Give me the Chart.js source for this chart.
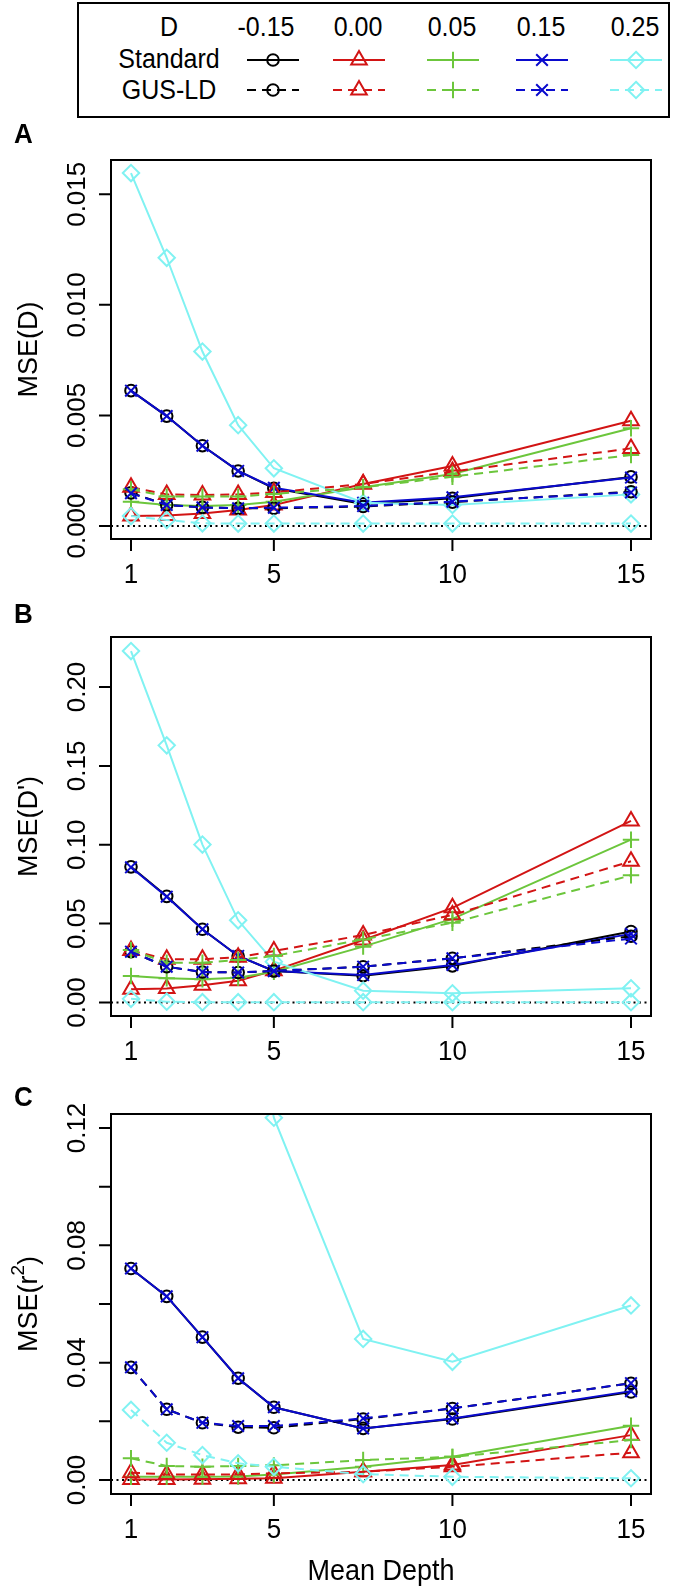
<!DOCTYPE html>
<html lang="en">
<head>
<meta charset="UTF-8">
<title>MSE by mean depth</title>
<script src="https://cdn.jsdelivr.net/npm/chart.js@4.4.1/dist/chart.umd.min.js"></script>
<style>
  body { margin: 0; background: #fff; }
  #wrap { position: relative; width: 677px; height: 1592px; }
  #wrap canvas { position: absolute; left: 0; }
  #legend { position: absolute; left: 0; top: 0; }
</style>
</head>
<body>
<div id="wrap">
  <svg id="legend" width="677" height="122" xmlns="http://www.w3.org/2000/svg"></svg>
  <canvas id="panelA" width="677" height="480" style="top:120px"></canvas>
  <canvas id="panelB" width="677" height="480" style="top:600px"></canvas>
  <canvas id="panelC" width="677" height="512" style="top:1080px"></canvas>
</div>

<script>
// mean sequencing depth (x axis)
const depth = [1, 2, 3, 4, 5, 7.5, 10, 15];
const xTicks = [1, 5, 10, 15];

// true D values, one colour / symbol each
const dLevels = ['-0.15', '0.00', '0.05', '0.15', '0.25'];
const colors = ['#000000', '#D21414', '#6CC63C', '#0A0ACD', '#80F2F2'];
const pointStyles = ['circle', 'triangle', 'cross', 'crossRot', 'rectRot'];
const pointSizes = [5.8, 9, 8.2, 8.2, 8.2];

// Panel A: MSE(D)
const stdA_m015 = [0.00612, 0.00497, 0.00363, 0.00249, 0.00170, 0.00100, 0.00125, 0.00222];
const stdA_000  = [0.00045, 0.00048, 0.00057, 0.00072, 0.00095, 0.00190, 0.00271, 0.00476];
const stdA_005  = [0.00110, 0.00095, 0.00090, 0.00095, 0.00110, 0.00175, 0.00235, 0.00442];
const stdA_015  = [0.00612, 0.00497, 0.00363, 0.00249, 0.00173, 0.00105, 0.00130, 0.00219];
const stdA_025  = [0.01596, 0.01213, 0.00789, 0.00456, 0.00261, 0.00105, 0.00095, 0.00143];
const gusA_m015 = [0.00150, 0.00095, 0.00084, 0.00080, 0.00080, 0.00088, 0.00108, 0.00155];
const gusA_000  = [0.00175, 0.00143, 0.00140, 0.00143, 0.00152, 0.00190, 0.00246, 0.00351];
const gusA_005  = [0.00166, 0.00133, 0.00133, 0.00133, 0.00145, 0.00175, 0.00223, 0.00321];
const gusA_015  = [0.00148, 0.00095, 0.00084, 0.00080, 0.00083, 0.00090, 0.00110, 0.00152];
const gusA_025  = [0.00045, 0.00027, 0.00012, 0.00011, 0.00011, 0.00011, 0.00011, 0.00011];

// Panel B: MSE(D')
const stdB_m015 = [0.0860, 0.0673, 0.0464, 0.0295, 0.0200, 0.0170, 0.0232, 0.0450];
const stdB_000  = [0.0084, 0.0088, 0.0109, 0.0138, 0.0202, 0.0396, 0.0600, 0.1151];
const stdB_005  = [0.0168, 0.0153, 0.0147, 0.0157, 0.0195, 0.0354, 0.0530, 0.1032];
const stdB_015  = [0.0857, 0.0671, 0.0464, 0.0295, 0.0200, 0.0174, 0.0238, 0.0435];
const stdB_025  = [0.2228, 0.1630, 0.1001, 0.0521, 0.0259, 0.0075, 0.0058, 0.0090];
const gusB_m015 = [0.0322, 0.0227, 0.0193, 0.0190, 0.0200, 0.0227, 0.0280, 0.0420];
const gusB_000  = [0.0330, 0.0274, 0.0274, 0.0287, 0.0326, 0.0428, 0.0555, 0.0895];
const gusB_005  = [0.0333, 0.0252, 0.0252, 0.0269, 0.0295, 0.0400, 0.0505, 0.0806];
const gusB_015  = [0.0322, 0.0227, 0.0193, 0.0190, 0.0200, 0.0227, 0.0280, 0.0405];
const gusB_025  = [0.0023, 0.0005, 0.0002, 0.0002, 0.0002, 0.0002, 0.0002, 0.0002];

// Panel C: MSE(r^2)  (D=0.25 standard runs off the top for low depth)
const stdC_m015 = [0.0721, 0.0626, 0.0487, 0.0347, 0.0248, 0.0176, 0.0208, 0.0300];
const stdC_000  = [0.0002, 0.0002, 0.0003, 0.0004, 0.0006, 0.0028, 0.0051, 0.0153];
const stdC_005  = [0.0011, 0.0011, 0.0011, 0.0012, 0.0019, 0.0045, 0.0079, 0.0185];
const stdC_015  = [0.0721, 0.0626, 0.0487, 0.0347, 0.0248, 0.0176, 0.0210, 0.0303];
const stdC_025  = [0.62, 0.45, 0.30, 0.19, 0.1235, 0.0481, 0.0403, 0.0595];
const gusC_m015 = [0.0384, 0.0241, 0.0195, 0.0180, 0.0178, 0.0208, 0.0244, 0.0330];
const gusC_000  = [0.0025, 0.0019, 0.0019, 0.0019, 0.0023, 0.0028, 0.0045, 0.0093];
const gusC_005  = [0.0074, 0.0048, 0.0045, 0.0048, 0.0050, 0.0068, 0.0079, 0.0136];
const gusC_015  = [0.0384, 0.0241, 0.0195, 0.0184, 0.0184, 0.0210, 0.0244, 0.0330];
const gusC_025  = [0.0239, 0.0127, 0.0085, 0.0057, 0.0045, 0.0020, 0.0011, 0.0006];

// y ticks
const yTicksA = [0, 0.005, 0.010, 0.015];
const yLabelsA = ['0.000', '0.005', '0.010', '0.015'];
const yTicksB = [0, 0.05, 0.10, 0.15, 0.20];
const yLabelsB = ['0.00', '0.05', '0.10', '0.15', '0.20'];
const yTicksC = [0, 0.02, 0.04, 0.06, 0.08, 0.10, 0.12];
const yLabelsC = ['0.00', '', '0.04', '', '0.08', '', '0.12'];

const FONT = '"Liberation Sans", Arial, Helvetica, sans-serif';
const DASH = [9, 6];
const LW = 2;
const STRETCH = 1.08;   // the original figure is a bit taller than wide

// draw horizontal text slightly stretched vertically, like the source
function tallText(ctx, s, x, y) {
  ctx.save();
  ctx.translate(x, y);
  ctx.scale(1, STRETCH);
  ctx.fillText(s, 0, 0);
  ctx.restore();
}

// R style axes: box, outward ticks, rotated y labels, dotted zero line
const rAxes = {
  id: 'rAxes',
  beforeDatasetsDraw(chart) {
    const ctx = chart.ctx, a = chart.chartArea;
    const y0 = chart.scales.y.getPixelForValue(0);
    ctx.save();
    ctx.strokeStyle = '#000';
    ctx.lineWidth = 1.8;
    ctx.setLineDash([2, 3.5]);
    ctx.beginPath();
    ctx.moveTo(a.left, y0);
    ctx.lineTo(a.right, y0);
    ctx.stroke();
    ctx.restore();
  },
  afterDraw(chart, args, o) {
    const ctx = chart.ctx, a = chart.chartArea;
    const x = chart.scales.x, y = chart.scales.y;
    ctx.save();
    ctx.strokeStyle = '#000';
    ctx.fillStyle = '#000';
    ctx.lineWidth = 2;
    ctx.strokeRect(a.left, a.top, a.right - a.left, a.bottom - a.top);

    ctx.beginPath();
    xTicks.forEach(v => {
      const px = x.getPixelForValue(v);
      ctx.moveTo(px, a.bottom); ctx.lineTo(px, a.bottom + 12);
    });
    o.yTicks.forEach(v => {
      const py = y.getPixelForValue(v);
      ctx.moveTo(a.left - 12, py); ctx.lineTo(a.left, py);
    });
    ctx.stroke();

    ctx.font = '26px ' + FONT;
    ctx.textAlign = 'center';
    ctx.textBaseline = 'alphabetic';
    xTicks.forEach(v => tallText(ctx, String(v), x.getPixelForValue(v), a.bottom + 44));
    o.yTicks.forEach((v, i) => {
      if (!o.yLabels[i]) return;
      ctx.save();
      ctx.translate(a.left - 26, y.getPixelForValue(v));
      ctx.rotate(-Math.PI / 2);
      ctx.fillText(o.yLabels[i], 0, 0);
      ctx.restore();
    });

    // y title, with optional superscript
    ctx.save();
    ctx.translate(37, (a.top + a.bottom) / 2);
    ctx.rotate(-Math.PI / 2);
    ctx.textAlign = 'left';
    const big = '27px ' + FONT, small = '19px ' + FONT;
    ctx.font = big;
    const w1 = ctx.measureText(o.title).width;
    const w3 = o.tail ? ctx.measureText(o.tail).width : 0;
    ctx.font = small;
    const w2 = o.sup ? ctx.measureText(o.sup).width : 0;
    let cx = -(w1 + w2 + w3) / 2;
    ctx.font = big;
    ctx.fillText(o.title, cx, 0); cx += w1;
    if (o.sup) {
      ctx.font = small; ctx.fillText(o.sup, cx, -13); cx += w2;
      ctx.font = big; ctx.fillText(o.tail, cx, 0);
    }
    ctx.restore();

    ctx.font = 'bold 26px ' + FONT;
    ctx.textAlign = 'left';
    tallText(ctx, o.letter, 14, a.top + o.letterDy);

    if (o.xTitle) {
      ctx.font = '27px ' + FONT;
      ctx.textAlign = 'center';
      tallText(ctx, o.xTitle, (a.left + a.right) / 2, a.bottom + 86);
    }
    ctx.restore();
  }
};

function series(vals, k, dashed) {
  return {
    data: depth.map((d, i) => ({ x: d, y: vals[i] })),
    borderColor: colors[k],
    borderWidth: LW,
    borderDash: dashed ? DASH : [],
    pointStyle: pointStyles[k],
    pointRadius: pointSizes[k],
    pointBorderColor: colors[k],
    pointBackgroundColor: 'rgba(0,0,0,0)',
    pointBorderWidth: LW,
    tension: 0,
    fill: false,
    clip: 0
  };
}

function makePanel(id, std, gus, yMin, yMax, pad, axes) {
  // standard first, GUS-LD drawn on top of it
  const sets = [];
  std.forEach((v, k) => sets.push(series(v, k, false)));
  gus.forEach((v, k) => sets.push(series(v, k, true)));
  sets.forEach((s, i) => { s.order = sets.length - i; });
  return new Chart(document.getElementById(id), {
    type: 'line',
    data: { datasets: sets },
    options: {
      responsive: false,
      animation: false,
      events: [],
      layout: { padding: pad },
      scales: {
        x: { type: 'linear', min: 0.44, max: 15.56, display: false },
        y: { type: 'linear', min: yMin, max: yMax, display: false }
      },
      plugins: { legend: { display: false }, tooltip: { enabled: false }, rAxes: axes }
    },
    plugins: [rAxes]
  });
}

makePanel('panelA',
  [stdA_m015, stdA_000, stdA_005, stdA_015, stdA_025],
  [gusA_m015, gusA_000, gusA_005, gusA_015, gusA_025],
  -0.000588, 0.016551,
  { left: 111, right: 26, top: 40, bottom: 61 },
  { yTicks: yTicksA, yLabels: yLabelsA, title: 'MSE(D)', letter: 'A', letterDy: -17 });

makePanel('panelB',
  [stdB_m015, stdB_000, stdB_005, stdB_015, stdB_025],
  [gusB_m015, gusB_000, gusB_005, gusB_015, gusB_025],
  -0.00856, 0.23170,
  { left: 111, right: 26, top: 37, bottom: 64 },
  { yTicks: yTicksB, yLabels: yLabelsB, title: "MSE(D')", letter: 'B', letterDy: -14 });

makePanel('panelC',
  [stdC_m015, stdC_000, stdC_005, stdC_015, stdC_025],
  [gusC_m015, gusC_000, gusC_005, gusC_015, gusC_025],
  -0.00477, 0.12477,
  { left: 111, right: 26, top: 34, bottom: 98 },
  { yTicks: yTicksC, yLabels: yLabelsC, title: 'MSE(r', sup: '2', tail: ')', letter: 'C', letterDy: -8,
    xTitle: 'Mean Depth' });

// legend: D header row, then Standard (solid) and GUS-LD (dashed) rows
(function buildLegend() {
  const svg = document.getElementById('legend');
  const NS = 'http://www.w3.org/2000/svg';
  const colX = [273, 359, 453, 542, 636];
  const rowY = [60, 90];
  function el(tag, attrs, text) {
    const e = document.createElementNS(NS, tag);
    for (const k in attrs) e.setAttribute(k, attrs[k]);
    if (text !== undefined) e.textContent = text;
    svg.appendChild(e);
    return e;
  }
  function label(x, y, s) {
    el('text', { transform: `translate(${x},${y}) scale(1,${STRETCH})`, x: 0, y: 0,
      'font-family': FONT, 'font-size': 25, fill: '#000', 'text-anchor': 'middle' }, s);
  }
  el('rect', { x: 78, y: 3, width: 591, height: 114, fill: 'none', stroke: '#000', 'stroke-width': 2 });
  label(169, 36, 'D');
  label(169, 68, 'Standard');
  label(169, 99, 'GUS-LD');
  dLevels.forEach((lab, k) => {
    label(colX[k] - (k === 0 ? 7 : 1), 36, lab);
    rowY.forEach((ry, r) => {
      const cx = colX[k], c = colors[k];
      const st = { stroke: c, 'stroke-width': LW, fill: 'none' };
      el('line', Object.assign({ x1: cx - 26, y1: ry, x2: cx + 26, y2: ry, 'stroke-dasharray': r ? DASH.join(' ') : 'none' }, st));
      const s = pointSizes[k];
      if (k === 0) el('circle', Object.assign({ cx: cx, cy: ry, r: s }, st));
      if (k === 1) el('polygon', Object.assign({ points: `${cx},${ry - s} ${cx + s * 0.866},${ry + s / 2} ${cx - s * 0.866},${ry + s / 2}` }, st));
      if (k === 2) el('path', Object.assign({ d: `M${cx - s},${ry}H${cx + s}M${cx},${ry - s}V${ry + s}` }, st));
      if (k === 3) { const h = s * 0.7071; el('path', Object.assign({ d: `M${cx - h},${ry - h}L${cx + h},${ry + h}M${cx - h},${ry + h}L${cx + h},${ry - h}` }, st)); }
      if (k === 4) el('polygon', Object.assign({ points: `${cx},${ry - s} ${cx + s},${ry} ${cx},${ry + s} ${cx - s},${ry}` }, st));
    });
  });
})();
</script>
</body>
</html>
